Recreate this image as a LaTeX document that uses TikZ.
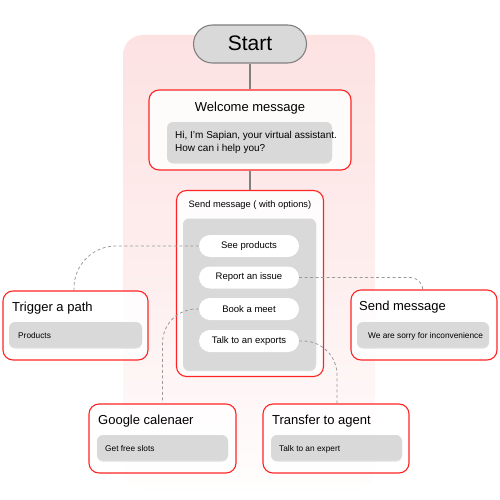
\documentclass[tikz,border=0pt]{standalone}
\usepackage{fontspec}
\setmainfont{Liberation Sans}
\usetikzlibrary{shadows}
\definecolor{boxred}{HTML}{FF2424}
\definecolor{innergray}{HTML}{D9D9D9}
\definecolor{linegray}{HTML}{808080}
\definecolor{dashgray}{HTML}{9A9A9A}
\definecolor{pinktop}{HTML}{FDE2E2}
\definecolor{pinkbot}{HTML}{FFFDFD}
\tikzset{
  redbox/.style={draw=boxred, line width=1.1pt, fill=white, fill opacity=0.85, text opacity=1, rounded corners=10pt, inner sep=0pt},
  graybox/.style={fill=innergray, rounded corners=6pt, inner sep=0pt, drop shadow={shadow xshift=0pt, shadow yshift=-1.5pt, opacity=0.25}},
  pill/.style={fill=white, rounded corners=11pt, minimum width=100pt, minimum height=22pt, inner sep=0pt, font=\fontsize{9.5}{11}\selectfont},
  conn/.style={draw=dashgray, line width=0.8pt, dash pattern=on 3pt off 2.5pt},
  solidconn/.style={draw=linegray, line width=1.1pt},
  titletext/.style={inner sep=0pt, font=\fontsize{13}{15}\selectfont},
  smalltext/.style={inner sep=0pt, font=\fontsize{8.3}{10}\selectfont},
  bodytext/.style={inner sep=0pt, font=\fontsize{10}{12}\selectfont},
}
\begin{document}
\begin{tikzpicture}[x=1pt, y=-1pt]
\useasboundingbox (0,0) rectangle (500,500);
% pink background
\shade[top color=pinktop, bottom color=pinkbot, middle color=pinktop!60!white, rounded corners=20pt] (123,35) rectangle (375,490);
% Start
\node[draw=linegray, line width=1.1pt, fill=innergray, rounded corners=19pt, minimum width=113pt, minimum height=38pt, inner sep=0pt] (start) at (250,44) {};
\node[inner sep=0pt, font=\fontsize{21}{24}\selectfont, anchor=base] (starttxt) at (250,51) {Start};
% Welcome
\node[redbox, minimum width=202pt, minimum height=80pt] (welcome) at (250,130) {};
\node[titletext, anchor=base] (welcometitle) at (250,111) {Welcome message};
\node[graybox, minimum width=165pt, minimum height=40pt] (welcomeinner) at (249.5,142) {};
\node[bodytext, anchor=base west] (hitxt1) at (175,138) {Hi, I’m Sapian, your virtual assistant.};
\node[bodytext, anchor=base west] (hitxt2) at (175,151) {How can i help you?};
% Send with options
\node[redbox, minimum width=147pt, minimum height=186pt] (sendopt) at (250,283.5) {};
\node[inner sep=0pt, anchor=base, font=\fontsize{9.3}{11}\selectfont] (sendopttitle) at (250,207) {Send message ( with options)};
\node[graybox, minimum width=133pt, minimum height=151pt] (optinner) at (249.5,294) {};
\node[pill] (sp) at (249,246) {See products};
\node[pill] (rep) at (249,277.5) {Report an issue};
\node[pill] (bm) at (249,309) {Book a meet};
\node[pill] (tk) at (249,341) {Talk to an exports};
% Trigger a path
\node[redbox, minimum width=145pt, minimum height=69pt] (trig) at (75.5,325.5) {};
\node[titletext, anchor=base west] (trigtitle) at (12,311) {Trigger a path};
\node[graybox, minimum width=133pt, minimum height=25pt] (triginner) at (75.5,334.5) {};
\node[smalltext, anchor=base west] (trigtxt) at (18,338) {Products};
% Send message right
\node[redbox, minimum width=146pt, minimum height=70pt] (smsg) at (424,325) {};
\node[titletext, anchor=base west] (smsgtitle) at (359,310) {Send message};
\node[graybox, minimum width=132pt, minimum height=25pt] (smsginner) at (423,334.5) {};
\node[smalltext, anchor=base west] (smsgtxt) at (368,338) {We are sorry for inconvenience};
% Google calenaer
\node[redbox, minimum width=147pt, minimum height=69pt] (gc) at (162.5,438.5) {};
\node[titletext, anchor=base west] (gctitle) at (98,424) {Google calenaer};
\node[graybox, minimum width=131pt, minimum height=25pt] (gcinner) at (162.5,447.5) {};
\node[smalltext, anchor=base west] (gctxt) at (105,451) {Get free slots};
% Transfer to agent
\node[redbox, minimum width=146pt, minimum height=69pt] (ta) at (336,438.5) {};
\node[titletext, anchor=base west] (tatitle) at (272,424) {Transfer to agent};
\node[graybox, minimum width=131pt, minimum height=25pt] (tainner) at (336.5,447.5) {};
\node[smalltext, anchor=base west] (tatxt) at (279,451) {Talk to an expert};
% connectors
\draw[solidconn] (start.south) -- (welcome.north);
\draw[solidconn] (welcome.south) -- (sendopt.north);
\draw[conn, rounded corners=42pt] (sp.west) -| ([xshift=-1.5pt]trig.north);
\draw[conn, rounded corners=13pt] (rep.east) -| ([xshift=-1pt]smsg.north);
\draw[conn, rounded corners=34pt] (bm.west) -| (gc.north);
\draw[conn, rounded corners=34pt] (tk.east) -| ([xshift=1pt]ta.north);
\end{tikzpicture}
\end{document}
